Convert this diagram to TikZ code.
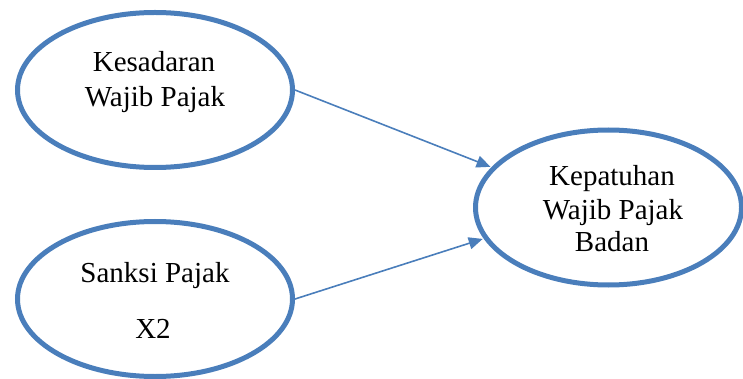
\documentclass[tikz,border=0pt]{standalone}
\usepackage{fontspec}
\setmainfont{Liberation Serif}
\usetikzlibrary{arrows.meta,shapes.geometric}
\definecolor{ovblue}{RGB}{74,126,187}
\tikzset{
  oval/.style={ellipse, draw=ovblue, line width=5pt, minimum width=275pt, minimum height=155pt, inner sep=0pt},
  ovalr/.style={oval, minimum width=266pt},
  txt/.style={anchor=base, inner sep=0pt, font=\fontsize{29}{34}\selectfont},
  arr/.style={draw=ovblue, line width=1.6pt, -{Triangle[length=14pt,width=12pt]}, shorten >=1pt}
}
\begin{document}
\begin{tikzpicture}[x=1pt,y=-1pt]
\useasboundingbox (0,0) rectangle (743,379);
\node[oval] (k) at (155,90) {};
\node[oval] (s) at (155,299) {};
\node[ovalr] (c) at (608.5,207.5) {};
\node[txt] (k1) at (154,72) {Kesadaran};
\node[txt] (k2) at (155,107) {Wajib Pajak};
\node[txt] (s1) at (155,282) {Sanksi Pajak};
\node[txt] (s2) at (153,338) {X2};
\node[txt] (c1) at (612,186) {Kepatuhan};
\node[txt] (c2) at (613,219) {Wajib Pajak};
\node[txt] (c3) at (612,251) {Badan};
\draw[arr] (k.east) -- (c.161);
\draw[arr] (s.east) -- (c.194);
\end{tikzpicture}
\end{document}
